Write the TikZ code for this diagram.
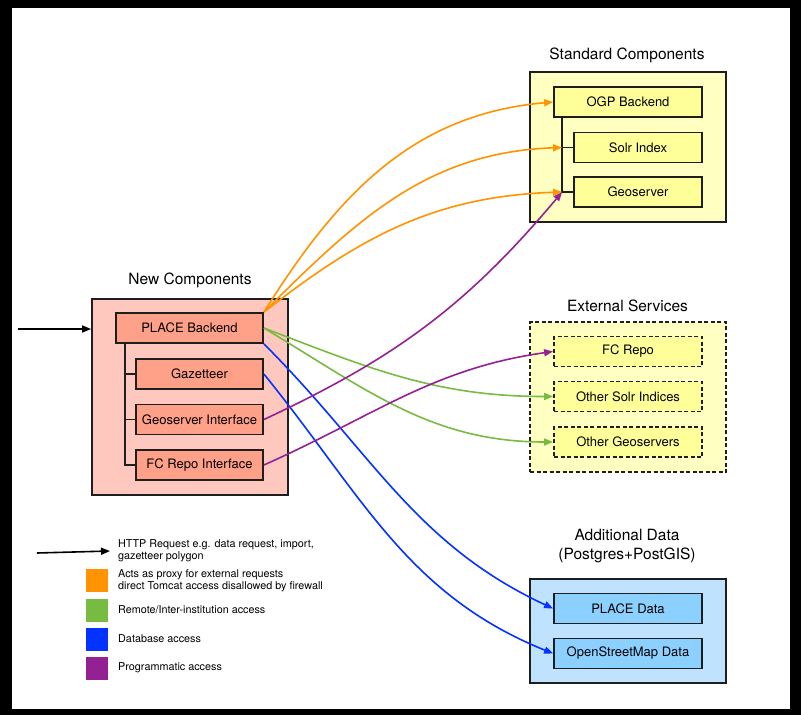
\documentclass[tikz,border=0pt]{standalone}
\usepackage{fontspec}
\setmainfont{TeX Gyre Heros}
\usepackage{xcolor}
\usetikzlibrary{arrows.meta,positioning,calc}

\definecolor{edge}{HTML}{1E1E1E}
\definecolor{newbg}{HTML}{FFC8BF}
\definecolor{newfg}{HTML}{FFA088}
\definecolor{stdbg}{HTML}{FFFFC2}
\definecolor{stdfg}{HTML}{FFFF99}
\definecolor{addbg}{HTML}{BFE3FF}
\definecolor{addfg}{HTML}{8CD0FF}
\definecolor{orangec}{HTML}{FF9300}
\definecolor{greenc}{HTML}{77BB41}
\definecolor{bluec}{HTML}{0433FF}
\definecolor{purplec}{HTML}{942193}

\begin{document}
\begin{tikzpicture}[x=1pt,y=-1pt,
  group/.style={draw=edge,line width=1.8pt,inner sep=0pt},
  box/.style={draw=edge,line width=1.8pt,inner sep=0pt,minimum height=30pt,
    font=\fontsize{13}{15}\selectfont},
  ext/.style={dash pattern=on 4pt off 2.5pt},
  title/.style={font=\fontsize{15.5}{19}\selectfont,align=center},
  tree/.style={draw=edge,line width=1.6pt},
  link/.style={line width=1.6pt,-{Triangle[length=9pt,width=7pt]}},
  swatch/.style={minimum width=22pt,minimum height=23pt,inner sep=0pt},
  note/.style={font=\fontsize{10.8}{12}\selectfont,align=left,anchor=west,inner sep=0pt}]
\fill[black] (0,0) rectangle (801,715);
\fill[white] (12,8) rectangle (790,709);

% new components
\node[title] (newtitle) at (190,280) {New Components};
\node[group,fill=newbg,minimum width=196pt,minimum height=196pt] (newbox) at (190,397) {};
\node[box,fill=newfg,minimum width=147pt] (place) at (189.5,328) {PLACE Backend};
\node[box,fill=newfg,minimum width=127pt] (gaz) at (199.5,374) {Gazetteer};
\node[box,fill=newfg,minimum width=127pt] (geoi) at (199.5,419.5) {Geoserver Interface};
\node[box,fill=newfg,minimum width=127pt] (fci) at (199.5,465) {FC Repo Interface};
\coordinate (newtree) at ([xshift=10pt]place.south west);
\foreach \n in {gaz,geoi,fci}
  \draw[tree] (newtree) |- (\n.west);

% standard components
\node[title] (stdtitle) at (627,55) {Standard Components};
\node[group,fill=stdbg,minimum width=196pt,minimum height=150pt] (stdbox) at (628,147) {};
\node[box,fill=stdfg,minimum width=148pt] (ogp) at (628,102) {OGP Backend};
\node[box,fill=stdfg,minimum width=128pt] (solr) at (638,147.5) {Solr Index};
\node[box,fill=stdfg,minimum width=128pt] (geo) at (638,192) {Geoserver};
\coordinate (stdtree) at ([xshift=9pt]ogp.south west);
\foreach \n in {solr,geo}
  \draw[tree] (stdtree) |- (\n.west);

% external services
\node[title] (exttitle) at (627.5,306) {External Services};
\node[group,ext,fill=stdbg,minimum width=196pt,minimum height=150pt] (extbox) at (628,397) {};
\node[box,ext,fill=stdfg,minimum width=148pt] (fcrepo) at (628,351.5) {FC Repo};
\node[box,ext,fill=stdfg,minimum width=148pt] (osolr) at (628,396.5) {Other Solr Indices};
\node[box,ext,fill=stdfg,minimum width=148pt] (ogeo) at (628,442) {Other Geoservers};

% additional data
\node[title] (addtitle) at (627,546.5) {Additional Data\\(Postgres+PostGIS)};
\node[group,fill=addbg,minimum width=196pt,minimum height=104pt] (addbox) at (628,631) {};
\node[box,fill=addfg,minimum width=148pt] (pdata) at (628,608.5) {PLACE Data};
\node[box,fill=addfg,minimum width=148pt] (osm) at (628,653.5) {OpenStreetMap Data};

% connectors
\coordinate (input) at (18,329);
\draw[link,black] (input) -- (input -| newbox.west);
\draw[link,orangec] (place.north east) to[out=58,in=185] (ogp.west);
\draw[link,orangec] (place.north east) to[out=45,in=182] (stdtree |- solr.west);
\draw[link,orangec] (place.north east) to[out=38,in=182] (stdtree |- geo.west);
\draw[link,greenc] (place.east) to[out=-21,in=180] (osolr.west);
\draw[link,greenc] (place.east) to[out=-31,in=180] (ogeo.west);
\draw[link,bluec] (place.south east) to[out=-45,in=155] (pdata.west);
\draw[link,bluec] (gaz.east) to[out=-51,in=158] (osm.west);
\draw[link,purplec] (geoi.east) to[out=25,in=230] (stdtree |- geo.west);
\draw[link,purplec] (fci.east) to[out=24,in=188] (fcrepo.west);

% legend
\coordinate (keyarrow) at (37,553);
\node[note] (keyhttp) at (118,551) {HTTP Request e.g. data request, import,\\gazetteer polygon};
\draw[link,black] (keyarrow) -- ([xshift=-8pt]keyhttp.west);
\foreach \c/\y/\t in {orangec/580.5/{Acts as proxy for external requests\\direct Tomcat access disallowed by firewall},
  greenc/610/{Remote/Inter-institution access},
  bluec/639/{Database access},
  purplec/668/{Programmatic access}}{
  \node[swatch,fill=\c] (key-\c) at (97,\y) {};
  \node[note] (keytext-\c) at (118,\y) {\t};
}
\end{tikzpicture}
\end{document}
